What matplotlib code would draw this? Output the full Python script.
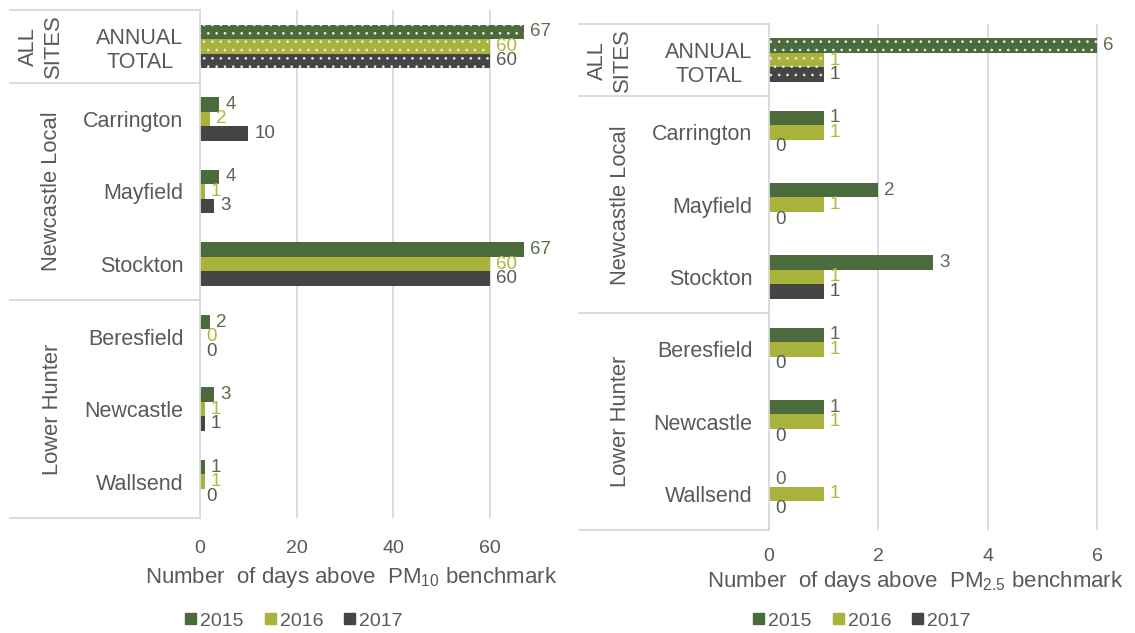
import numpy as np
import matplotlib.pyplot as plt
import matplotlib.transforms as mtransforms
from matplotlib.lines import Line2D
from matplotlib.patches import Patch

plt.rcParams['font.family'] = ['Liberation Sans', 'DejaVu Sans']
plt.rcParams['mathtext.default'] = 'regular'
plt.rcParams['hatch.linewidth'] = 0.7

sites = ['ANNUAL\nTOTAL', 'Carrington', 'Mayfield', 'Stockton',
         'Beresfield', 'Newcastle', 'Wallsend']
groups = ['ALL\nSITES', 'Newcastle Local', 'Lower Hunter']
group_span = [(0, 0), (1, 3), (4, 6)]
years = ['2015', '2016', '2017']

pm10_2015 = [67, 4, 4, 67, 2, 3, 1]
pm10_2016 = [60, 2, 1, 60, 0, 1, 1]
pm10_2017 = [60, 10, 3, 60, 0, 1, 0]

pm25_2015 = [6, 1, 2, 3, 1, 1, 0]
pm25_2016 = [1, 1, 1, 1, 1, 1, 1]
pm25_2017 = [1, 0, 0, 1, 0, 0, 0]

bar_colors = ['#4b6b3d', '#a9b23a', '#454545']
text_colors = ['#5a6e4e', '#b0b83c', '#595959']
grey = '#595959'
line_grey = '#d9d9d9'

fig = plt.figure(figsize=(11.35, 6.33), dpi=100)


def px(dx):
    # horizontal shift in screen pixels
    return mtransforms.ScaledTranslation(dx / 100, 0, fig.dpi_scale_trans)


def draw_panel(ax, width_px, series, xmax, xticks, xlabel, label_pos, tick_pad):
    y = np.arange(len(sites))
    h = 0.2
    for i, vals in enumerate(series):
        yy = y + (i - 1) * h
        bars = ax.barh(yy, vals, height=h, color=bar_colors[i], linewidth=0)
        # the annual totals get a dotted fill
        bars[0].set_hatch('..')
        bars[0].set_edgecolor('#e8e8e8')
        for yv, v in zip(yy, vals):
            ax.text(v, yv, str(v), color=text_colors[i], fontsize=13.5,
                    va='center', ha='left', transform=ax.transData + px(6))

    ax.set_xlim(0, xmax)
    ax.set_ylim(len(sites) - 0.5, -0.5)
    ax.set_xticks(xticks)
    ax.set_yticks(y)
    ax.set_yticklabels(sites)
    for t in ax.get_yticklabels():
        t.set_multialignment('center')
    ax.tick_params(axis='y', length=0, pad=12, labelsize=15.5, labelcolor=grey)
    ax.tick_params(axis='x', length=0, pad=tick_pad, labelsize=14, labelcolor=grey)
    ax.grid(axis='x', color=line_grey, linewidth=1.3)
    ax.set_axisbelow(True)
    for s in ['top', 'right', 'bottom']:
        ax.spines[s].set_visible(False)
    ax.spines['left'].set_color(line_grey)
    ax.spines['left'].set_linewidth(1.3)

    ax.set_xlabel(xlabel, fontsize=16, color=grey)
    ax.xaxis.set_label_coords(*label_pos)

    # two-level category table left of the bars
    ytr = ax.get_yaxis_transform()
    for b in [-0.5, 0.5, 3.5, 6.5]:
        ax.add_line(Line2D([-190 / width_px, 0], [b, b], color=line_grey,
                           linewidth=1.3, transform=ytr, clip_on=False))
    for name, (a, b) in zip(groups, group_span):
        dx = -159 if '\n' in name else -148
        ax.text(0, (a + b) / 2, name, rotation=90, fontsize=15.8, color=grey,
                ha='center', va='center', multialignment='center',
                transform=ytr + px(dx))


ax1 = fig.add_axes([200 / 1135, 115 / 633, 360 / 1135, 508 / 633])
draw_panel(ax1, 360, [pm10_2015, pm10_2016, pm10_2017], 74.5, [0, 20, 40, 60],
           'Number  of days above  PM$_{10}$ benchmark', (0.42, -0.092), 16)

ax2 = fig.add_axes([769 / 1135, 103 / 633, 350 / 1135, 506 / 633])
draw_panel(ax2, 350, [pm25_2015, pm25_2016, pm25_2017], 6.4, [0, 2, 4, 6],
           'Number  of days above  PM$_{2.5}$ benchmark', (0.417, -0.078), 13)

handles = [Patch(color=c, label=yr) for c, yr in zip(bar_colors, years)]
for cx in [294, 862]:
    fig.legend(handles=handles, loc='center', ncol=3, frameon=False,
               bbox_to_anchor=(cx / 1135, 1 - 621 / 633), fontsize=14,
               handlelength=0.55, handleheight=0.55, handletextpad=0.2,
               columnspacing=1.1, labelcolor=grey)

fig.savefig('out.png', dpi=100)
